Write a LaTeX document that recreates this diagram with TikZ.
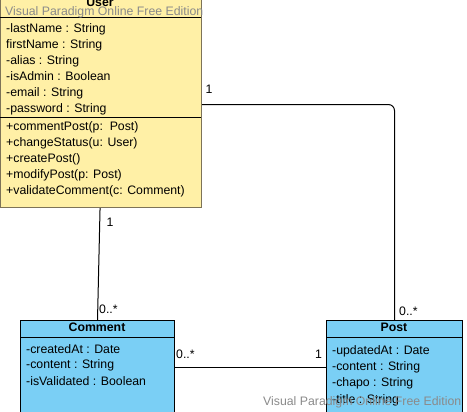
\documentclass[tikz,border=0pt]{standalone}
\usepackage{fontspec}
\setmainfont{Liberation Sans}
\definecolor{uyellow}{HTML}{FFF0A6}
\definecolor{ublue}{HTML}{7ACFF5}
\definecolor{uborder}{HTML}{7D7358}
\definecolor{wm}{HTML}{8A8A8A}
\begin{document}
\begin{tikzpicture}[x=1pt,y=-1pt,
  txt/.style={inner sep=0pt, text height=8.5pt, text depth=2.5pt, anchor=west, font=\fontsize{12.3}{15}\selectfont},
  ttl/.style={txt, anchor=center, font=\fontsize{12.3}{15}\selectfont\bfseries},
  lbl/.style={txt},
  wmark/.style={txt, text=wm},
  userbox/.style={draw=uborder, fill=uyellow, line width=1.1pt, inner sep=0pt, anchor=north west},
  classbox/.style={draw=black, fill=ublue, line width=1pt, inner sep=0pt, anchor=north west},
  sep/.style={line width=1pt},
  conn/.style={line width=1pt}
]
\useasboundingbox (0,0) rectangle (467,412);

% User class
\node[userbox, minimum width=201pt, minimum height=208pt] (user) at (0,-1) {};
\draw[sep] (0,17.5) -- (200.5,17.5);
\draw[sep] (0,117.5) -- (200.5,117.5);
\node[ttl] (utitle) at (100,3.3) {User};
\node[txt] (ua1) at (6,29.7) {-lastName : String};
\node[txt] (ua2) at (6,45.7) {firstName : String};
\node[txt] (ua3) at (6,61.7) {-alias : String};
\node[txt] (ua4) at (6,77.7) {-isAdmin : Boolean};
\node[txt] (ua5) at (6,93.7) {-email : String};
\node[txt] (ua6) at (6,109.7) {-password : String};
\node[txt] (um1) at (6,127.7) {+commentPost(p:\ \ Post)};
\node[txt] (um2) at (6,143.7) {+changeStatus(u: User)};
\node[txt] (um3) at (6,159.7) {+createPost()};
\node[txt] (um4) at (6,175.7) {+modifyPost(p: Post)};
\node[txt] (um5) at (6,191.7) {+validateComment(c: Comment)};

% Comment class
\node[classbox, minimum width=154pt, minimum height=93pt] (comment) at (20,320.5) {};
\draw[sep] (20,337.3) -- (174,337.3);
\node[ttl] (ctitle) at (97,328.3) {Comment};
\node[txt] (ca1) at (26,350) {-createdAt : Date};
\node[txt] (ca2) at (26,366) {-content : String};
\node[txt] (ca3) at (26,382) {-isValidated : Boolean};

% Post class
\node[classbox, minimum width=136pt, minimum height=93pt] (post) at (326,320.5) {};
\draw[sep] (326,337.3) -- (462,337.3);
\node[ttl] (ptitle) at (394,328.3) {Post};
\node[txt] (pa1) at (332,352) {-updatedAt : Date};
\node[txt] (pa2) at (332,367.7) {-content : String};
\node[txt] (pa3) at (332,383) {-chapo : String};
\node[txt] (pa4) at (332,400) {-title : String};

% Connectors
\draw[conn, rounded corners=6pt] ([yshift=-1pt]user.east) -| (post.north);
\draw[conn] ([xshift=-1pt]user.south) -- (comment.north);
\draw[conn] (comment.east) -- (post.west);

% Multiplicities
\node[lbl, anchor=center] (m1) at (209,91) {1};
\node[lbl, anchor=center] (m2) at (110,224) {1};
\node[lbl] (m3) at (99,311) {0..*};
\node[lbl] (m4) at (399,312.5) {0..*};
\node[lbl] (m5) at (176,356) {0..*};
\node[lbl, anchor=center] (m6) at (318.5,356) {1};

% Watermarks
\node[wmark] (w1) at (5,13) {Visual Paradigm Online Free Edition};
\node[wmark] (w2) at (263,402.7) {Visual Paradigm Online Free Edition};
\end{tikzpicture}
\end{document}
